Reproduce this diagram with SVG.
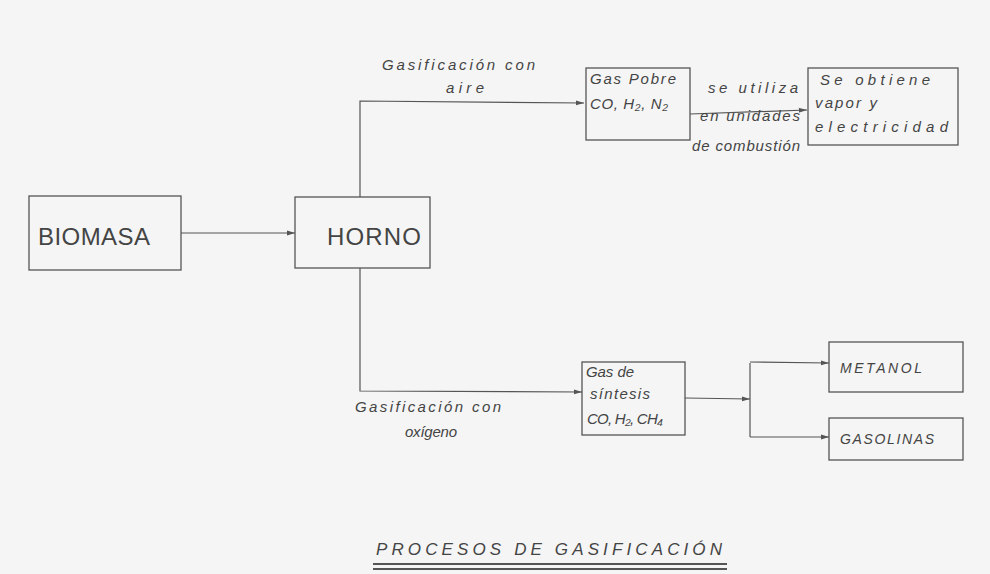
<svg xmlns="http://www.w3.org/2000/svg" width="990" height="574" viewBox="0 0 990 574">
<defs>
<style>
.box{fill:none;stroke:#555;stroke-width:1.3}
.ln{fill:none;stroke:#555;stroke-width:1.2}
.t{font-family:"Liberation Sans",Arial,sans-serif;font-style:italic;font-size:15px;fill:#444}
.big{font-family:"Liberation Sans",Arial,sans-serif;font-size:24px;fill:#444}
.cap{font-family:"Liberation Sans",Arial,sans-serif;font-style:italic;font-size:14px;fill:#444}
</style>
<marker id="ah" viewBox="0 0 10 10" refX="10" refY="5" markerWidth="7" markerHeight="7" orient="auto">
<path d="M0,2 L10,5 L0,8 z" fill="#555"/>
</marker>
</defs>
<rect width="990" height="574" fill="#f5f5f5"/>
<g id="connectors">
<line class="ln" x1="181" y1="233" x2="295" y2="233" marker-end="url(#ah)"/>
<polyline class="ln" points="360,197 360,101 584,103" marker-end="url(#ah)"/>
<line class="ln" x1="690" y1="114" x2="807" y2="110" marker-end="url(#ah)"/>
<polyline class="ln" points="360,268 360,391 582,392" marker-end="url(#ah)"/>
<line class="ln" x1="685" y1="398" x2="750" y2="399" marker-end="url(#ah)"/>
<polyline class="ln" points="750,363 750,437"/>
<line class="ln" x1="750" y1="362" x2="829" y2="363" marker-end="url(#ah)"/>
<line class="ln" x1="750" y1="437" x2="829" y2="437" marker-end="url(#ah)"/>
<text class="t" x="382" y="70" textLength="153" lengthAdjust="spacing">Gasificación con</text>
<text class="t" x="446" y="93" textLength="38" lengthAdjust="spacing">aire</text>
<text class="t" x="708" y="93" textLength="90" lengthAdjust="spacing">se utiliza</text>
<text class="t" x="700" y="121" textLength="100" lengthAdjust="spacing">en unidades</text>
<text class="t" x="692" y="151" textLength="108" lengthAdjust="spacing">de combustión</text>
<text class="t" x="355" y="412" textLength="146" lengthAdjust="spacing">Gasificación con</text>
<text class="t" x="405" y="437" textLength="52" lengthAdjust="spacing">oxígeno</text>
</g>
<g id="biomasa">
<rect class="box" x="29" y="196" width="152" height="74"/>
<text class="big" x="38" y="245" textLength="112" lengthAdjust="spacing">BIOMASA</text>
</g>
<g id="horno">
<rect class="box" x="295" y="197" width="135" height="71"/>
<text class="big" x="327" y="245" textLength="94" lengthAdjust="spacing">HORNO</text>
</g>
<g id="gas-pobre">
<rect class="box" x="586" y="68" width="104" height="72"/>
<text class="t" x="590" y="84" textLength="86" lengthAdjust="spacing">Gas Pobre</text>
<text class="t" x="590" y="109" textLength="78" lengthAdjust="spacing">CO, H₂, N₂</text>
</g>
<g id="vapor">
<rect class="box" x="808" y="68" width="150" height="77"/>
<text class="t" x="820" y="85" textLength="110" lengthAdjust="spacing">Se obtiene</text>
<text class="t" x="815" y="108" textLength="62" lengthAdjust="spacing">vapor y</text>
<text class="t" x="815" y="132" textLength="133" lengthAdjust="spacing">electricidad</text>
</g>
<g id="gas-sintesis">
<rect class="box" x="582" y="362" width="103" height="73"/>
<text class="t" x="586" y="377" textLength="48" lengthAdjust="spacing">Gas de</text>
<text class="t" x="590" y="399" textLength="60" lengthAdjust="spacing">síntesis</text>
<text class="t" x="587" y="424" textLength="76" lengthAdjust="spacing">CO, H₂, CH₄</text>
</g>
<g id="metanol">
<rect class="box" x="829" y="342" width="134" height="50"/>
<text class="cap" x="840" y="373" textLength="82" lengthAdjust="spacing">METANOL</text>
</g>
<g id="gasolinas">
<rect class="box" x="829" y="418" width="134" height="42"/>
<text class="cap" x="840" y="444" textLength="94" lengthAdjust="spacing">GASOLINAS</text>
</g>
<g id="title">
<text class="cap" x="376" y="555" textLength="346" lengthAdjust="spacing" style="font-size:17px">PROCESOS DE GASIFICACIÓN</text>
<line class="ln" x1="373" y1="564" x2="727" y2="564" style="stroke-width:2"/>
<line class="ln" x1="373" y1="569" x2="727" y2="569" style="stroke-width:2"/>
</g>
</svg>
